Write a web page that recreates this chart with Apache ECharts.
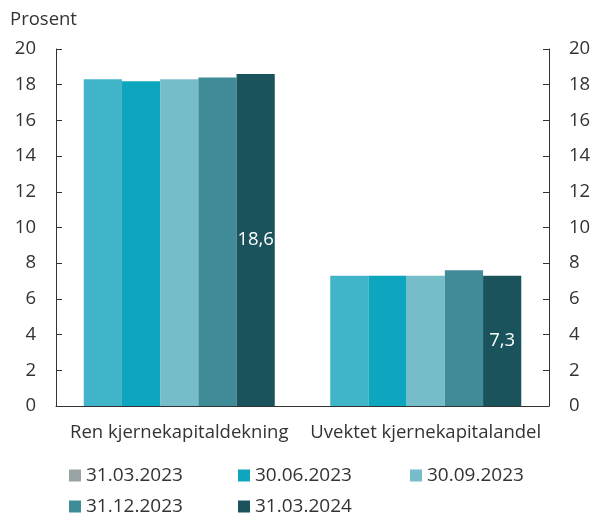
<!DOCTYPE html>
<html>
<head>
<meta charset="utf-8">
<script src="https://cdn.jsdelivr.net/npm/echarts@6/dist/echarts.min.js"></script>
<style>
  html, body { margin: 0; padding: 0; background: #fff; }
  #chart { width: 594px; height: 516px; }
</style>
</head>
<body>
<div id="chart"></div>
<script>
const categories = ["Ren kjernekapitaldekning", "Uvektet kjernekapitalandel"];
const seriesNames = ["31.03.2023", "30.06.2023", "30.09.2023", "31.12.2023", "31.03.2024"];
const q1_2023 = [18.3, 7.3];
const q2_2023 = [18.2, 7.3];
const q3_2023 = [18.3, 7.3];
const q4_2023 = [18.4, 7.6];
const q1_2024 = [18.6, 7.3];
const yTicks = [0, 2, 4, 6, 8, 10, 12, 14, 16, 18, 20];

const values = [q1_2023, q2_2023, q3_2023, q4_2023, q1_2024];
const barColors = ["#40b5c9", "#0ea5be", "#76bdca", "#3f8b97", "#1a535c"];
const legendColors = ["#9aa3a4", "#0ea5be", "#76bdca", "#3f8b97", "#1a535c"];
const font = "'Open Sans', 'Noto Sans', sans-serif";
const fs = 18.5;

const chart = echarts.init(document.getElementById("chart"));

const yAxisBase = {
  type: "value",
  min: yTicks[0],
  max: yTicks[yTicks.length - 1],
  interval: 2,
  axisLine: { show: true, lineStyle: { color: "#333", width: 1 } },
  axisTick: { show: true, inside: true, length: 6, lineStyle: { color: "#333" } },
  splitLine: { show: false },
  axisLabel: { color: "#333", fontSize: fs, fontFamily: font, margin: 20 }
};

// legend laid out as a 3-column grid
const legendPos = [
  { left: 64, top: 461 }, { left: 233, top: 461 }, { left: 405, top: 461 },
  { left: 64, top: 492 }, { left: 233, top: 492 }
];

chart.setOption({
  animation: false,
  textStyle: { fontFamily: font },
  grid: { left: 56, right: 45, top: 49, bottom: 110 },
  graphic: [{
    type: "text", left: 10, top: 10,
    style: { text: "Prosent", fontSize: fs, fill: "#333", fontFamily: font }
  }],
  legend: seriesNames.map((name, i) => ({
    data: [{ name, itemStyle: { color: legendColors[i] } }],
    left: legendPos[i].left,
    top: legendPos[i].top,
    icon: "rect",
    itemWidth: 12,
    itemHeight: 12,
    itemGap: 0,
    textStyle: { fontSize: 19, color: "#333", fontFamily: font, padding: [0, 0, 0, 0] }
  })),
  xAxis: {
    type: "category",
    data: categories,
    axisLine: { show: true, lineStyle: { color: "#333", width: 1 } },
    axisTick: { show: false },
    axisLabel: { color: "#333", fontSize: fs, fontFamily: font, margin: 17, interval: 0 }
  },
  yAxis: [
    Object.assign({}, yAxisBase, { position: "left" }),
    Object.assign({}, yAxisBase, { position: "right" })
  ],
  series: seriesNames.map((name, i) => ({
    name,
    type: "bar",
    data: values[i],
    barGap: "0%",
    barCategoryGap: "22.5%",
    itemStyle: { color: barColors[i] },
    label: i === seriesNames.length - 1 ? {
      show: true,
      position: "inside",
      color: "#fff",
      fontSize: fs,
      fontFamily: font,
      formatter: p => String(p.value).replace(".", ",")
    } : { show: false }
  }))
});
</script>
</body>
</html>
